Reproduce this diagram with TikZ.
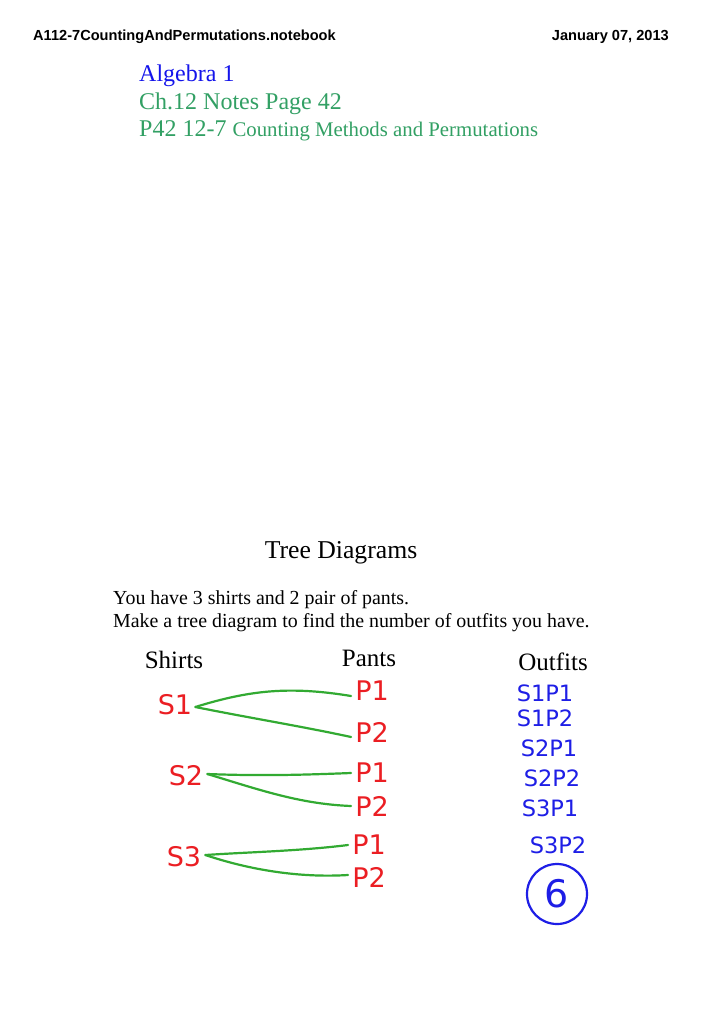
\documentclass[tikz,border=0pt]{standalone}
\usepackage{fontspec}
\setmainfont{Liberation Serif}
\newfontfamily\hdr{Liberation Sans}
\newfontfamily\hand{DejaVu Sans}
\definecolor{tblue}{RGB}{20,20,235}
\definecolor{tgreen}{RGB}{50,160,100}
\definecolor{lgreen}{RGB}{50,170,50}
\definecolor{hred}{RGB}{235,30,35}
\definecolor{hblue}{RGB}{30,30,230}
\tikzset{
  hdrtxt/.style={font=\hdr\bfseries\fontsize{14.6}{16}\selectfont, inner sep=0pt},
  redh/.style={font=\hand\fontsize{27}{30}\selectfont, text=hred, inner sep=0pt},
  blueh/.style={font=\hand\fontsize{22.5}{26}\selectfont, text=hblue, inner sep=0pt},
  colhead/.style={font=\fontsize{25}{29}\selectfont, inner sep=0pt},
  branch/.style={draw=lgreen, line width=2.2pt, line cap=round},
}
\begin{document}
\begin{tikzpicture}[x=1pt,y=-1pt]
\useasboundingbox (0,0) rectangle (724,1024);
\fill[white] (0,0) rectangle (724,1024);
% header
\node[hdrtxt, anchor=west] (file) at (33,37) {A112-7CountingAndPermutations.notebook};
\node[hdrtxt, anchor=east] (date) at (669,37) {January 07, 2013};
% titles
\node[anchor=base west, inner sep=0pt, text=tblue, font=\fontsize{24}{28}\selectfont] (alg) at (139,82) {Algebra 1};
\node[anchor=base west, inner sep=0pt, text=tgreen, font=\fontsize{24}{28}\selectfont] (ch) at (139,110) {Ch.12 Notes Page 42};
\node[anchor=base west, inner sep=0pt, text=tgreen] (p42) at (139,137) {\fontsize{24}{28}\selectfont P42 12-7 \fontsize{20.8}{24}\selectfont Counting Methods and Permutations};
% tree section
\node[colhead, font=\fontsize{25.7}{30}\selectfont] (tree) at (341,553) {Tree Diagrams};
\node[anchor=base west, inner sep=0pt, font=\fontsize{19.9}{23}\selectfont] (q1) at (113,604) {You have 3 shirts and 2 pair of pants.};
\node[anchor=base west, inner sep=0pt, font=\fontsize{19.9}{23}\selectfont] (q2) at (113,627) {Make a tree diagram to find the number of outfits you have.};
\node[colhead] (shirts) at (174,660) {Shirts};
\node[colhead] (pants) at (369,658) {Pants};
\node[colhead] (outfits) at (553,662) {Outfits};
% shirts and pants
\node[redh] (s1) at (175,705) {S1};
\node[redh] (s2) at (186,776) {S2};
\node[redh] (s3) at (184,857) {S3};
\node[redh] (p11) at (372,691) {P1};
\node[redh] (p12) at (372,732) {P2};
\node[redh] (p21) at (372,773) {P1};
\node[redh] (p22) at (372,806) {P2};
\node[redh] (p31) at (369,845) {P1};
\node[redh] (p32) at (369,877) {P2};
% branches
\coordinate (s1a) at ([xshift=3pt,yshift=-2pt]s1.east);
\draw[branch] (s1a) .. controls (250,690) and (290,686) .. ([xshift=-4pt,yshift=-5pt]p11.west);
\draw[branch] (s1a) .. controls (250,718) and (300,726) .. ([xshift=-4pt,yshift=-5pt]p12.west);
\coordinate (s2a) at ([xshift=4pt,yshift=2pt]s2.east);
\draw[branch] (s2a) .. controls (260,776) and (300,775) .. ([xshift=-4pt]p21.west);
\draw[branch] (s2a) .. controls (260,790) and (300,804) .. ([xshift=-4pt]p22.west);
\coordinate (s3a) at ([xshift=4pt,yshift=2pt]s3.east);
\draw[branch] (s3a) .. controls (250,852) and (300,851) .. ([xshift=-4pt]p31.west);
\draw[branch] (s3a) .. controls (250,870) and (300,878) .. ([xshift=-4pt,yshift=2pt]p32.west);
% outfits
\node[blueh] (o1) at (545,693) {S1P1};
\node[blueh] (o2) at (545,718) {S1P2};
\node[blueh] (o3) at (549,748) {S2P1};
\node[blueh] (o4) at (552,778) {S2P2};
\node[blueh] (o5) at (550,808) {S3P1};
\node[blueh] (o6) at (558,845) {S3P2};
\node[blueh, draw=hblue, line width=2.2pt, circle, minimum size=60pt, font=\hand\fontsize{38}{42}\selectfont] (six) at (557,894) {6};
\end{tikzpicture}
\end{document}
